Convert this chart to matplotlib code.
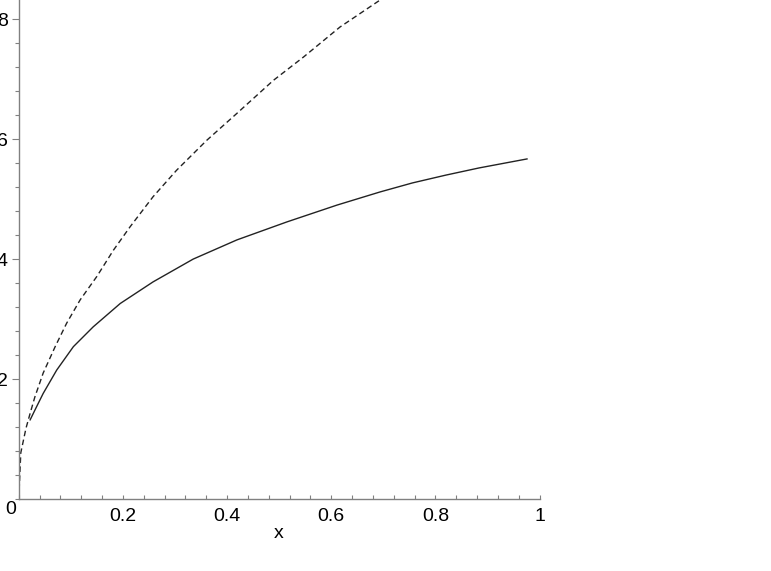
import numpy as np
import matplotlib
matplotlib.use("Agg")
import matplotlib.pyplot as plt
from matplotlib.ticker import MultipleLocator, FixedLocator

plt.rcParams["font.family"] = ["Liberation Sans", "DejaVu Sans"]

# solid curve
solid_x = [0.022, 0.031, 0.047, 0.073, 0.105, 0.143, 0.195, 0.258, 0.335,
           0.419, 0.515, 0.611, 0.694, 0.756, 0.820, 0.884, 0.976]
solid_y = [1.32, 1.48, 1.76, 2.15, 2.54, 2.87, 3.26, 3.62, 4.00,
           4.32, 4.62, 4.90, 5.12, 5.27, 5.40, 5.52, 5.67]

# dashed curve
dash_x = [0.0, 0.0006, 0.004, 0.014, 0.022, 0.031, 0.047, 0.070, 0.092,
          0.118, 0.150, 0.182, 0.214, 0.258, 0.303, 0.361, 0.419, 0.489,
          0.547, 0.617, 0.694]
dash_y = [0.0, 0.10, 0.77, 1.18, 1.43, 1.70, 2.10, 2.54, 2.93,
          3.32, 3.71, 4.15, 4.54, 5.04, 5.48, 5.98, 6.43, 6.98,
          7.37, 7.87, 8.32]

xticks = [0.2, 0.4, 0.6, 0.8, 1.0]
xticklabels = ["0.2", "0.4", "0.6", "0.8", "1"]
yticks = [2, 4, 6, 8]
yticklabels = ["2", "4", "6", "8"]

W, H = 771, 571
fig = plt.figure(figsize=(W / 100, H / 100), dpi=100)
left, right, bottom, top = 18.7, 539.5, 499, 0
ax = fig.add_axes([left / W, (H - bottom) / H, (right - left) / W, (bottom - top) / H])

ax.plot(solid_x, solid_y, color="#222222", lw=1.0)
ax.plot(dash_x, dash_y, color="#222222", lw=1.0, dashes=(4, 2.5))

ax.set_xlim(0, 1)
ax.set_ylim(0, 8.32)

for s in ["top", "right"]:
    ax.spines[s].set_visible(False)
for s in ["left", "bottom"]:
    ax.spines[s].set_color("#808080")
    ax.spines[s].set_linewidth(1.0)

ax.xaxis.set_major_locator(FixedLocator(xticks))
ax.set_xticklabels(xticklabels)
ax.xaxis.set_minor_locator(MultipleLocator(0.04))
ax.yaxis.set_major_locator(FixedLocator(yticks))
ax.set_yticklabels(yticklabels)
ax.yaxis.set_minor_locator(MultipleLocator(0.4))

ax.tick_params(axis="x", which="both", direction="in", color="#808080",
               length=3, width=0.8, pad=6.5, labelsize=14)
ax.tick_params(axis="y", which="major", direction="out", color="#808080",
               length=5, width=0.8, pad=3, labelsize=14)
ax.tick_params(axis="y", which="minor", direction="out", color="#808080",
               length=3, width=0.8)

ax.set_xlabel("x", fontsize=14, labelpad=0)
ax.text(-0.004, -0.18, "0", transform=ax.transData, ha="right", va="center",
        fontsize=14, clip_on=False)

fig.savefig("out.png", dpi=100)
